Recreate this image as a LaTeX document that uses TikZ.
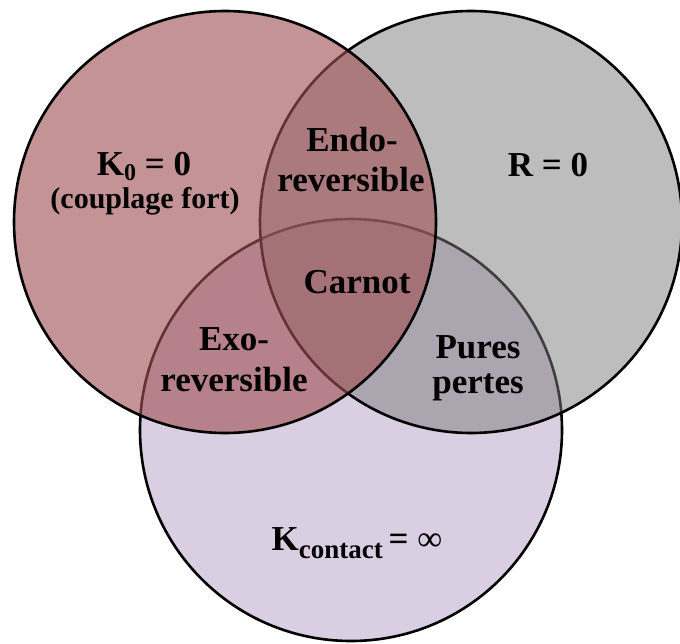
\documentclass[tikz,border=0pt]{standalone}
\usepackage{fontspec}
\setmainfont{Liberation Serif}
\definecolor{cbot}{RGB}{218,206,227}
\definecolor{cright}{RGB}{125,125,125}
\definecolor{cleft}{RGB}{160,82,86}
\tikzset{
  ring/.style={draw=black, line width=2.6bp},
  lbl/.style={inner sep=0pt, anchor=base, font=\fontsize{35bp}{40bp}\bfseries\selectfont},
  sublbl/.style={inner sep=0pt, anchor=base, font=\fontsize{30bp}{34bp}\bfseries\selectfont}
}
\begin{document}
\begin{tikzpicture}[x=1bp,y=-1bp]
\useasboundingbox (0,0) rectangle (680,644);
\fill[white] (0,0) rectangle (680,644);
% circles
\fill[cbot] (351,430) circle[radius=211];
\draw[ring] (351,430) circle[radius=211];
\fill[cright, fill opacity=0.5] (471,222) circle[radius=211];
\draw[ring] (471,222) circle[radius=211];
\fill[cleft, fill opacity=0.62] (225,222) circle[radius=211];
\draw[ring] (225,222) circle[radius=211];
% labels
\node[lbl] (k0) at (144,176) {K\raisebox{-5bp}{\fontsize{24bp}{24bp}\selectfont 0} = 0};
\node[sublbl] (coupl) at (145,208) {(couplage fort)};
\node[lbl] (r0) at (548,177) {R = 0};
\node[lbl] (endo1) at (352,152) {Endo-};
\node[lbl] (endo2) at (351,192) {reversible};
\node[lbl] (carnot) at (357,293) {Carnot};
\node[lbl] (exo1) at (234,350) {Exo-};
\node[lbl] (exo2) at (234,391) {reversible};
\node[lbl] (pures1) at (478,358) {Pures};
\node[lbl] (pures2) at (478,393) {pertes};
\node[lbl] (kc) at (357,550) {K\raisebox{-8bp}{\fontsize{27bp}{27bp}\selectfont contact}\,= \mdseries ∞};
\end{tikzpicture}
\end{document}
